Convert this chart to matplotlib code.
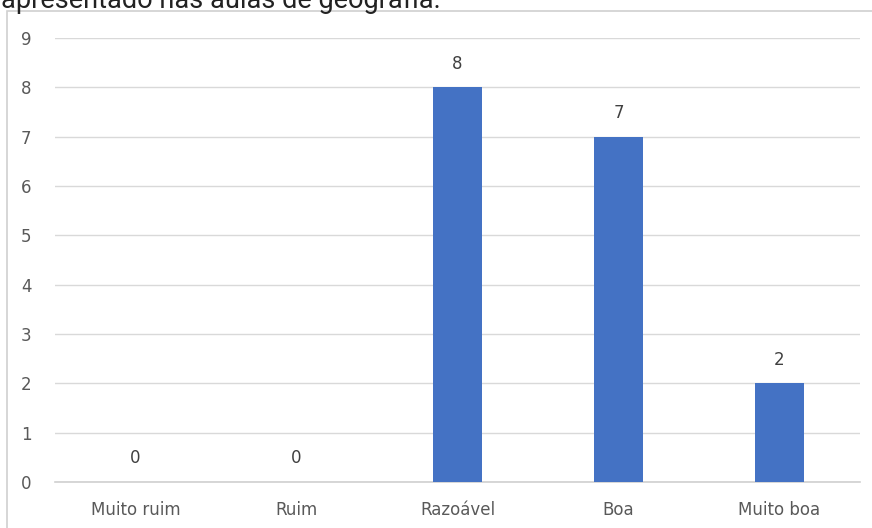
import matplotlib.pyplot as plt
from matplotlib.patches import Rectangle

categories = ["Muito ruim", "Ruim", "Razoável", "Boa", "Muito boa"]
values = [0, 0, 8, 7, 2]
yticks = list(range(0, 10))

W, H = 872, 528
fig = plt.figure(figsize=(W / 100, H / 100), dpi=100)
fig.patch.set_facecolor("white")

# chart frame
fig.patches.append(Rectangle((7 / W, -0.01), 1.0, (H - 11) / H + 0.01,
                             transform=fig.transFigure, fill=False,
                             edgecolor="#d0d0d0", linewidth=1.2))

# heading running into the top edge
fig.text(1 / W, (H - 8) / H, "apresentado nas aulas de geografia.",
         fontsize=19.5, family="Roboto", color="#222222", va="baseline", ha="left")

ax = fig.add_axes([55 / W, 46 / H, (860 - 55) / W, (482 - 38) / H])
x = list(range(len(categories)))
ax.bar(x, values, width=0.31, color="#4472C4", zorder=3)

for xi, v in zip(x, values):
    ax.text(xi, v + 0.3, str(v), ha="center", va="bottom",
            fontsize=12, color="#404040")

ax.set_xlim(-0.5, 4.5)
ax.set_ylim(0, 9)
ax.set_yticks(yticks)
ax.set_xticks(x)
ax.set_xticklabels(categories)
ax.grid(axis="y", color="#d9d9d9", linewidth=1, zorder=0)
ax.tick_params(axis="both", length=0, labelsize=12, labelcolor="#595959")
ax.tick_params(axis="y", pad=17)
ax.tick_params(axis="x", pad=14)
for s in ["top", "right", "left"]:
    ax.spines[s].set_visible(False)
ax.spines["bottom"].set_color("#d0d0d0")
ax.spines["bottom"].set_linewidth(1.2)
ax.set_facecolor("none")

fig.savefig("out.png", dpi=100)
